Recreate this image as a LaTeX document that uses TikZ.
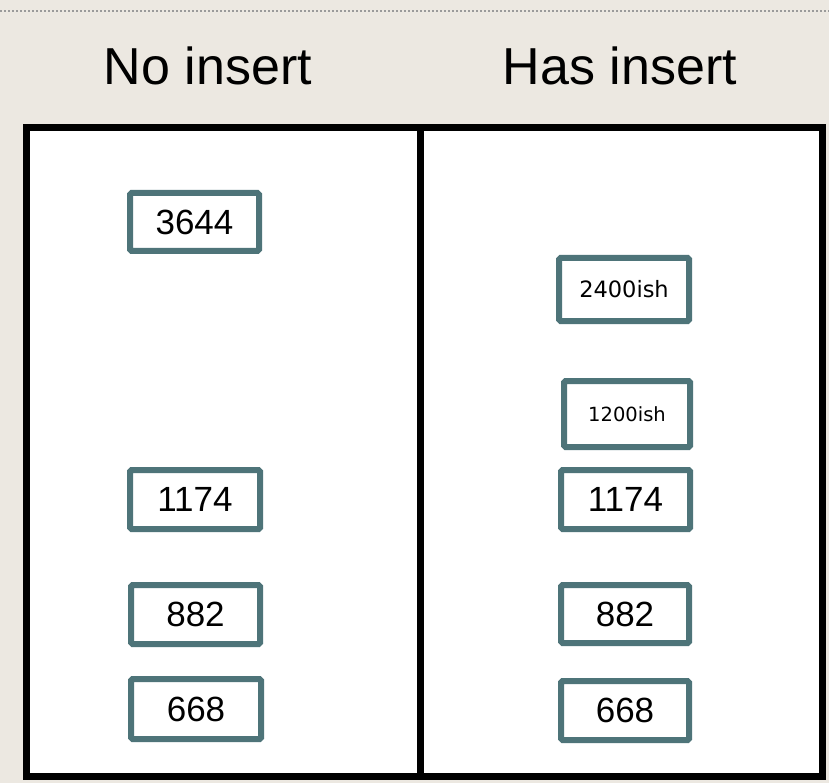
\documentclass[tikz,border=0pt]{standalone}
\usepackage{fontspec}
\setmainfont{Liberation Sans}
\newfontfamily\numfont{DejaVu Sans}
\definecolor{bgbeige}{HTML}{ECE8E1}
\definecolor{tealedge}{HTML}{4E7479}
\definecolor{dotgray}{HTML}{9A9A9A}
\tikzset{
  valbox/.style={draw=tealedge, line width=6pt, fill=white, rounded corners=1.5pt,
    minimum width=130pt, minimum height=60pt, inner sep=0pt, font=\fontsize{35}{35}\selectfont},
  smallbox/.style={valbox, font=\numfont\fontsize{22.5}{22.5}\selectfont},
  heading/.style={font=\fontsize{52}{52}\selectfont, inner sep=0pt, anchor=base},
  frame/.style={line width=7pt, draw=black}
}
\begin{document}
\begin{tikzpicture}[x=1pt, y=-1pt]
  % page background and dotted rule at the top
  \fill[bgbeige] (0,0) rectangle (829,783);
  \useasboundingbox (0,0) rectangle (829,783);
  \draw[dotgray, line width=1.5pt, dash pattern=on 2pt off 2pt] (0,11) -- (829,11);

  % column headings
  \node[heading] (hno) at (208,85) {No insert};
  \node[heading] (hhas) at (620,85) {Has insert};

  % the two-column frame
  \filldraw[frame, fill=white] (26,128) rectangle (822,776);
  \coordinate (divtop) at (420,128);
  \coordinate (divbot) at (420,776);
  \draw[frame] (divtop) -- (divbot);

  % left column values
  \node[valbox, minimum width=129pt, minimum height=58pt] (l3644) at (194.5,222) {3644};
  \node[valbox, minimum width=130pt, minimum height=59pt] (l1174) at (195,499.5) {1174};
  \node[valbox, minimum width=129pt, minimum height=59pt] (l882) at (195.5,614.5) {882};
  \node[valbox, minimum width=130pt, minimum height=60pt] (l668) at (196,709) {668};

  % right column values
  \node[smallbox, minimum width=130pt, minimum height=63pt] (r2400) at (624,289.5) {2400ish};
  \node[smallbox, minimum width=126pt, minimum height=66pt, font=\numfont\fontsize{19.5}{19.5}\selectfont] (r1200) at (627,414) {1200ish};
  \node[valbox, minimum width=129pt, minimum height=59pt] (r1174) at (625.5,499.5) {1174};
  \node[valbox, minimum width=128pt, minimum height=58pt] (r882) at (625,614) {882};
  \node[valbox, minimum width=128pt, minimum height=59pt] (r668) at (625,710.5) {668};
\end{tikzpicture}
\end{document}
